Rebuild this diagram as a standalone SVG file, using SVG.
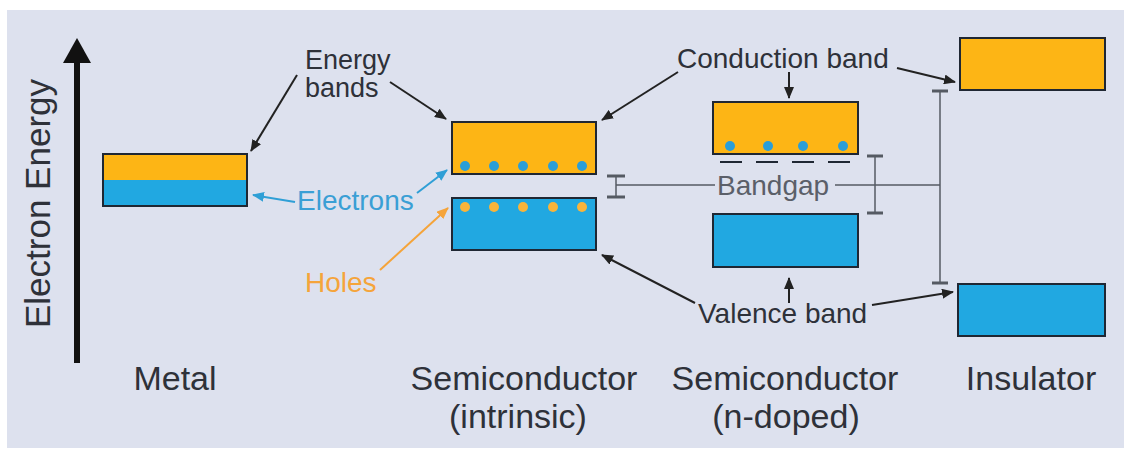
<svg xmlns="http://www.w3.org/2000/svg" width="1131" height="457" viewBox="0 0 1131 457">
<defs>
<marker id="ah" viewBox="0 0 12 10" refX="11" refY="5" markerWidth="12" markerHeight="10" markerUnits="userSpaceOnUse" orient="auto"><path d="M0,0 L12,5 L0,10 Z" fill="#222"/></marker>
<marker id="ahb" viewBox="0 0 12 10" refX="11" refY="5" markerWidth="12" markerHeight="10" markerUnits="userSpaceOnUse" orient="auto"><path d="M0,0 L12,5 L0,10 Z" fill="#2f9fd6"/></marker>
<marker id="aho" viewBox="0 0 12 10" refX="11" refY="5" markerWidth="12" markerHeight="10" markerUnits="userSpaceOnUse" orient="auto"><path d="M0,0 L12,5 L0,10 Z" fill="#f5a43a"/></marker>
</defs>
<style>
.cb{fill:#fdb515;stroke:#1f2733;stroke-width:2}
.vb{fill:#21a8e1;stroke:#1f2733;stroke-width:2}
.e{fill:#2a9ed8}
.h{fill:#f9b43a}
.t{font-family:"Liberation Sans",Arial,sans-serif;fill:#2e3139}
.lab{font-size:28px}
.big{font-size:34px}
.ar{stroke:#222;stroke-width:2;fill:none;marker-end:url(#ah)}
.gap{stroke:#555a63;stroke-width:1.5;fill:none}
.cap{stroke:#555a63;stroke-width:3;fill:none}
</style>
<rect x="0" y="0" width="1131" height="457" fill="#ffffff"/>
<rect x="7" y="10" width="1117" height="438" fill="#dde1ee"/>

<g id="axis">
<line x1="77" y1="60" x2="77" y2="363" stroke="#111" stroke-width="6"/>
<path d="M63,63 L77,38 L91,63 Z" fill="#111"/>
<text class="t" font-size="35" transform="translate(50,328) rotate(-90)">Electron Energy</text>
</g>

<g id="metal">
<rect x="103" y="154" width="144" height="26" fill="#fdb515"/>
<rect x="103" y="180" width="144" height="26" fill="#21a8e1"/>
<rect x="103" y="154" width="144" height="52" fill="none" stroke="#1f2733" stroke-width="2"/>
<text class="t big" x="175" y="390" text-anchor="middle">Metal</text>
</g>

<g id="intrinsic">
<rect class="cb" x="452" y="122" width="144" height="52"/>
<circle class="e" cx="465" cy="166" r="5"/><circle class="e" cx="494" cy="166" r="5"/><circle class="e" cx="523" cy="166" r="5"/><circle class="e" cx="553" cy="166" r="5"/><circle class="e" cx="582" cy="166" r="5"/>
<rect class="vb" x="452" y="198" width="144" height="52"/>
<circle class="h" cx="465" cy="207" r="5"/><circle class="h" cx="494" cy="207" r="5"/><circle class="h" cx="523" cy="207" r="5"/><circle class="h" cx="553" cy="207" r="5"/><circle class="h" cx="582" cy="207" r="5"/>
<text class="t big" x="524" y="390" text-anchor="middle">Semiconductor</text>
<text class="t big" x="518" y="428" text-anchor="middle">(intrinsic)</text>
</g>

<g id="ndoped">
<rect class="cb" x="713" y="102" width="145" height="52"/>
<circle class="e" cx="730" cy="146" r="5"/><circle class="e" cx="768" cy="146" r="5"/><circle class="e" cx="803" cy="146" r="5"/><circle class="e" cx="843" cy="146" r="5"/>
<line x1="720" y1="162" x2="855" y2="162" stroke="#1f2733" stroke-width="2" stroke-dasharray="22 14"/>
<rect class="vb" x="713" y="214" width="145" height="53"/>
<text class="t big" x="785" y="390" text-anchor="middle">Semiconductor</text>
<text class="t big" x="786" y="428" text-anchor="middle">(n-doped)</text>
</g>

<g id="insulator">
<rect class="cb" x="960" y="38" width="145" height="52"/>
<rect class="vb" x="958" y="284" width="147" height="52"/>
<text class="t big" x="1031" y="390" text-anchor="middle">Insulator</text>
</g>

<g id="labels">
<text class="t" font-size="27" x="305" y="69">Energy</text>
<text class="t" font-size="27" x="305" y="97">bands</text>
<text class="t lab" x="677" y="68">Conduction band</text>
<text class="t lab" x="698" y="323">Valence band</text>
<text class="lab" x="297" y="210" font-family="Liberation Sans,Arial,sans-serif" fill="#3a9fd5">Electrons</text>
<text class="lab" x="305" y="292" font-family="Liberation Sans,Arial,sans-serif" fill="#f5a43a">Holes</text>
<text class="lab" x="717" y="195" font-family="Liberation Sans,Arial,sans-serif" fill="#5b5f69">Bandgap</text>
</g>

<g id="connectors">
<line class="ar" x1="297" y1="75" x2="251" y2="151"/>
<line class="ar" x1="390" y1="82" x2="446" y2="119"/>
<line class="ar" x1="678" y1="72" x2="602" y2="120"/>
<line class="ar" x1="789" y1="72" x2="789" y2="98"/>
<line class="ar" x1="897" y1="68" x2="955" y2="82"/>
<line class="ar" x1="695" y1="303" x2="602" y2="255"/>
<line class="ar" x1="789" y1="303" x2="789" y2="278"/>
<line class="ar" x1="872" y1="305" x2="953" y2="292"/>
<line x1="295" y1="202" x2="253" y2="195" stroke="#2f9fd6" stroke-width="2" marker-end="url(#ahb)"/>
<line x1="417" y1="193" x2="447" y2="170" stroke="#2f9fd6" stroke-width="2" marker-end="url(#ahb)"/>
<line x1="380" y1="270" x2="448" y2="208" stroke="#f5a43a" stroke-width="2" marker-end="url(#aho)"/>
<line class="gap" x1="616" y1="176" x2="616" y2="197"/>
<line class="cap" x1="607" y1="176" x2="625" y2="176"/>
<line class="cap" x1="607" y1="197" x2="625" y2="197"/>
<line class="gap" x1="616" y1="185" x2="715" y2="185"/>
<line class="gap" x1="835" y1="185" x2="940" y2="185"/>
<line class="gap" x1="875" y1="156" x2="875" y2="213"/>
<line class="cap" x1="867" y1="156" x2="883" y2="156"/>
<line class="cap" x1="867" y1="213" x2="883" y2="213"/>
<line class="gap" x1="940" y1="91" x2="940" y2="283"/>
<line class="cap" x1="932" y1="91" x2="948" y2="91"/>
<line class="cap" x1="932" y1="283" x2="948" y2="283"/>
</g>
</svg>
